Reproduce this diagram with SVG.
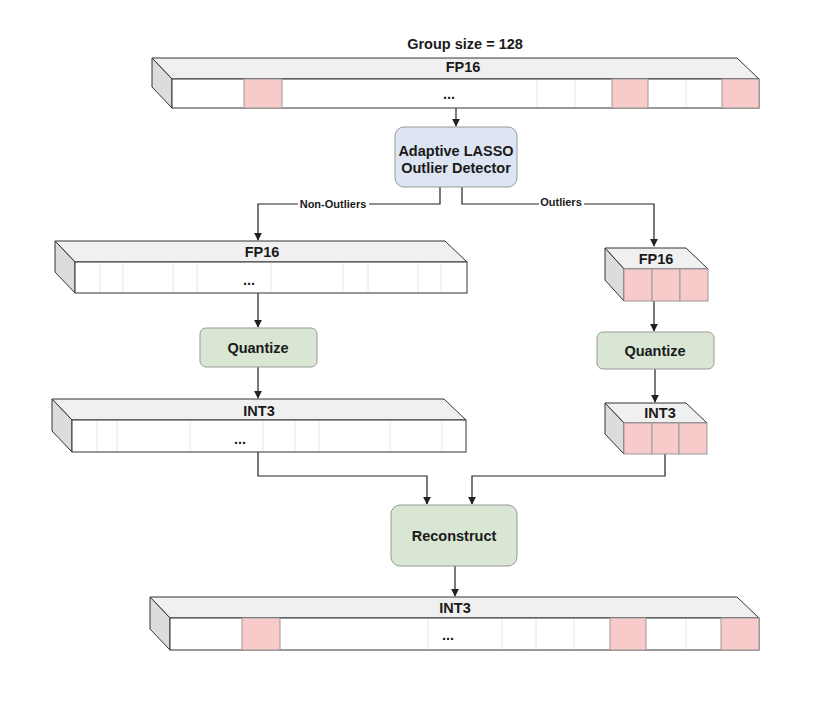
<svg xmlns="http://www.w3.org/2000/svg" width="830" height="719" viewBox="0 0 830 719">
<defs>
<style>
text{font-family:"Liberation Sans",Arial,sans-serif;font-weight:bold;fill:#1a1a1a;text-anchor:middle;}
.lbl{font-size:14.5px;}
.small{font-size:11px;}
.top{fill:#f0f0f0;stroke:#333;stroke-width:1;}
.side{fill:#dcdcdc;stroke:#333;stroke-width:1;}
.front{fill:#fff;stroke:#333;stroke-width:1;}
.cell{fill:none;stroke:#e4e8e4;stroke-width:1;}
.pink{fill:#f8cbca;stroke:#999;stroke-width:1;}
.blue{fill:#dde5f3;stroke:#999;stroke-width:1;}
.green{fill:#d9e6d4;stroke:#999;stroke-width:1;}
.edge{fill:none;stroke:#222;stroke-width:1.2;}
</style>
<marker id="arr" viewBox="0 0 10 10" refX="9" refY="5" markerWidth="8" markerHeight="8" orient="auto" markerUnits="userSpaceOnUse">
<path d="M0,0 L10,5 L0,10 z" fill="#222"/>
</marker>
</defs>
<rect width="830" height="719" fill="#fff"/>
<text class="lbl" x="465" y="49">Group size = 128</text>

<g id="connectors">
<path class="edge" d="M456,108 V126" marker-end="url(#arr)"/>
<path class="edge" d="M440,187 V204 H258 V240" marker-end="url(#arr)"/>
<path class="edge" d="M462,187 V204 H654 V246" marker-end="url(#arr)"/>
<path class="edge" d="M258,293 V327" marker-end="url(#arr)"/>
<path class="edge" d="M258,367 V398" marker-end="url(#arr)"/>
<path class="edge" d="M654,301 V331" marker-end="url(#arr)"/>
<path class="edge" d="M655,369 V402" marker-end="url(#arr)"/>
<path class="edge" d="M258,452 V476 H427 V504" marker-end="url(#arr)"/>
<path class="edge" d="M665,454 V476 H472 V504" marker-end="url(#arr)"/>
<path class="edge" d="M455,566 V596" marker-end="url(#arr)"/>
<rect x="298" y="198" width="71" height="11" fill="#fff"/>
<text class="small" x="333" y="208">Non-Outliers</text>
<rect x="539" y="196" width="45" height="11" fill="#fff"/>
<text class="small" x="561" y="206">Outliers</text>
</g>

<g id="fp16-input">
<polygon class="top" points="152,58 737,58 759,79 172,79"/>
<polygon class="side" points="152,58 172,79 172,108 152,87"/>
<rect class="front" x="172" y="79" width="587" height="29"/>
<path class="cell" d="M537,80V107M575,80V107M686,80V107"/>
<rect class="pink" x="244" y="79" width="38" height="29"/>
<rect class="pink" x="612" y="79" width="36" height="29"/>
<rect class="pink" x="722" y="79" width="37" height="29"/>
<text class="lbl" x="463" y="72">FP16</text>
<text class="lbl" x="449" y="99">...</text>
</g>

<g id="detector">
<rect class="blue" x="395" y="127" width="122" height="60" rx="9"/>
<text class="lbl" x="456" y="156">Adaptive LASSO</text>
<text class="lbl" x="456" y="173">Outlier Detector</text>
</g>

<g id="fp16-nonoutliers">
<polygon class="top" points="55,241 445,241 467,262 75,262"/>
<polygon class="side" points="55,241 75,262 75,293 55,272"/>
<rect class="front" x="75" y="262" width="392" height="31"/>
<path class="cell" d="M100,263V292M123,263V292M173,263V292M197,263V292M271,263V292M343,263V292M368,263V292M418,263V292M441,263V292"/>
<text class="lbl" x="262" y="257">FP16</text>
<text class="lbl" x="249" y="285">...</text>
</g>

<g id="fp16-outliers">
<polygon class="top" points="605,248 686,248 708,269 624,269"/>
<polygon class="side" points="605,248 624,269 624,301 605,280"/>
<rect class="pink" x="624" y="269" width="28" height="32"/>
<rect class="pink" x="652" y="269" width="28" height="32"/>
<rect class="pink" x="680" y="269" width="28" height="32"/>
<text class="lbl" x="656" y="264">FP16</text>
</g>

<g id="quantize-left">
<rect class="green" x="200" y="328" width="117" height="39" rx="6"/>
<text class="lbl" x="258" y="353">Quantize</text>
</g>

<g id="quantize-right">
<rect class="green" x="597" y="332" width="117" height="37" rx="6"/>
<text class="lbl" x="655" y="356">Quantize</text>
</g>

<g id="int3-nonoutliers">
<polygon class="top" points="52,399 444,399 466,420 72,420"/>
<polygon class="side" points="52,399 72,420 72,452 52,431"/>
<rect class="front" x="72" y="420" width="394" height="32"/>
<path class="cell" d="M97,421V451M117,421V451M190,421V451M263,421V451M295,421V451M319,421V451M390,421V451M442,421V451"/>
<text class="lbl" x="259" y="416">INT3</text>
<text class="lbl" x="240" y="444">...</text>
</g>

<g id="int3-outliers">
<polygon class="top" points="605,403 686,403 707,423 624,423"/>
<polygon class="side" points="605,403 624,423 624,454 605,434"/>
<rect class="pink" x="624" y="423" width="28" height="31"/>
<rect class="pink" x="652" y="423" width="27" height="31"/>
<rect class="pink" x="679" y="423" width="28" height="31"/>
<text class="lbl" x="660" y="418">INT3</text>
</g>

<g id="reconstruct">
<rect class="green" x="391" y="505" width="126" height="61" rx="9"/>
<text class="lbl" x="454" y="541">Reconstruct</text>
</g>

<g id="int3-output">
<polygon class="top" points="150,597 737,597 759,618 170,618"/>
<polygon class="side" points="150,597 170,618 170,650 150,629"/>
<rect class="front" x="170" y="618" width="589" height="32"/>
<path class="cell" d="M428,619V649M502,619V649M536,619V649M574,619V649M686,619V649"/>
<rect class="pink" x="242" y="618" width="38" height="32"/>
<rect class="pink" x="610" y="618" width="36" height="32"/>
<rect class="pink" x="721" y="618" width="38" height="32"/>
<text class="lbl" x="455" y="613">INT3</text>
<text class="lbl" x="448" y="640">...</text>
</g>
</svg>
